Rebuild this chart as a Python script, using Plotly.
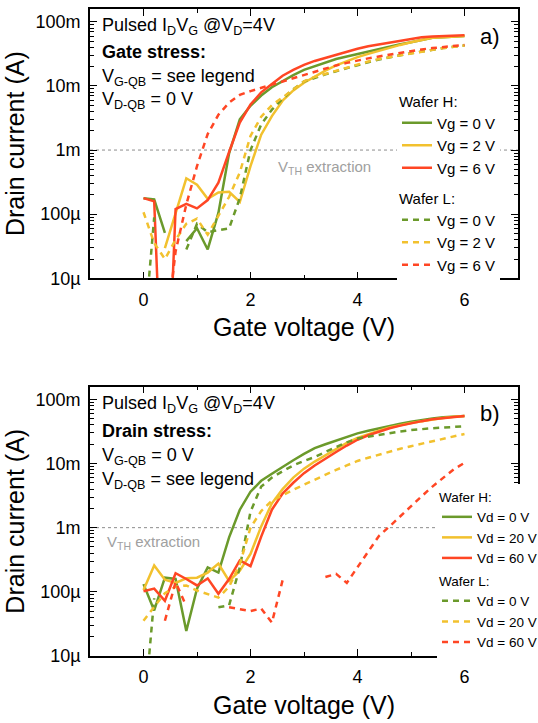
import plotly.graph_objects as go

# ---------------- data (gate voltage in V, drain current as log10(A)) ----------------
gate_v = [0.0, 0.2, 0.4, 0.6, 0.8, 1.0, 1.2, 1.4, 1.6, 1.8, 2.0, 2.2, 2.4, 2.6, 2.8, 3.0,
          3.2, 3.4, 3.6, 3.8, 4.0, 4.2, 4.4, 4.6, 4.8, 5.0, 5.2, 5.4, 5.6, 5.8, 6.0]

# panel a) gate stress
a_H_vg0 = [-3.75, -3.77, -4.29, None, -4.42, -4.22, -4.55, -3.98, -3.05, -2.52, -2.31, -2.15, -2.02, -1.92, -1.83, -1.75,
           -1.69, -1.63, -1.58, -1.54, -1.50, -1.46, -1.42, -1.39, -1.35, -1.32, -1.28, -1.25, -1.24, -1.23, -1.22]
a_H_vg2 = [None, None, -4.53, -4.00, -3.44, -3.54, -3.76, -3.66, -3.65, -3.81, -3.25, -2.76, -2.47, -2.23, -2.07, -1.95,
           -1.85, -1.76, -1.68, -1.61, -1.55, -1.50, -1.45, -1.40, -1.36, -1.32, -1.28, -1.25, -1.24, -1.23, -1.22]
a_H_vg6 = [-3.75, -3.80, -8.00, -3.92, -3.84, -3.91, -3.78, -3.51, -3.03, -2.57, -2.29, -2.10, -1.97, -1.84, -1.75, -1.67,
           -1.61, -1.56, -1.51, -1.46, -1.42, -1.38, -1.35, -1.32, -1.29, -1.26, -1.24, -1.23, -1.22, -1.21, -1.21]
a_L_vg0 = [-6.00, -4.05, None, None, -4.55, -4.15, -4.28, -4.25, -4.22, -3.75, -3.00, -2.60, -2.37, -2.20, -2.05, -1.93,
           -1.87, -1.82, -1.77, -1.72, -1.67, -1.63, -1.59, -1.55, -1.52, -1.49, -1.46, -1.43, -1.41, -1.39, -1.37]
a_L_vg2 = [-3.97, -4.45, -4.70, -4.40, -4.15, -4.07, -4.32, -4.02, -3.73, -3.35, -2.78, -2.48, -2.30, -2.18, -2.05, -1.93,
           -1.86, -1.81, -1.76, -1.71, -1.66, -1.62, -1.58, -1.55, -1.52, -1.49, -1.46, -1.43, -1.41, -1.39, -1.37]
a_L_vg6 = [None, None, -6.00, -4.58, -3.85, -3.25, -2.75, -2.45, -2.26, -2.14, -2.08, -2.03, -1.98, -1.92, -1.87, -1.82,
           -1.77, -1.72, -1.68, -1.64, -1.60, -1.57, -1.54, -1.51, -1.48, -1.45, -1.43, -1.41, -1.39, -1.37, -1.36]

# panel b) drain stress
b_H_vd0 = [-3.88, -4.29, -3.78, -3.80, -4.61, -3.95, -3.62, -3.70, -3.15, -2.72, -2.44, -2.27, -2.16, -2.05, -1.95, -1.85,
           -1.76, -1.70, -1.64, -1.58, -1.53, -1.49, -1.45, -1.41, -1.38, -1.35, -1.32, -1.30, -1.28, -1.27, -1.26]
b_H_vd20 = [-3.97, -3.59, -3.81, -3.86, -3.79, -3.78, -3.70, -3.56, -3.83, -3.67, -3.41, -2.98, -2.62, -2.40, -2.22, -2.08,
            -1.97, -1.87, -1.77, -1.68, -1.60, -1.54, -1.49, -1.44, -1.40, -1.37, -1.34, -1.31, -1.29, -1.27, -1.26]
b_H_vd60 = [-3.99, -3.95, -4.14, -3.71, -3.80, -3.90, -3.79, -4.03, -3.80, -3.51, -3.60, -3.14, -2.72, -2.47, -2.30, -2.15,
            -2.03, -1.92, -1.82, -1.72, -1.63, -1.56, -1.50, -1.45, -1.41, -1.37, -1.34, -1.31, -1.29, -1.27, -1.26]
b_L_vd0 = [-6.00, -4.10, None, None, None, None, None, -4.24, -4.21, -3.62, -2.75, -2.36, -2.22, -2.12, -2.03, -1.96,
           -1.90, -1.82, -1.74, -1.67, -1.61, -1.58, -1.55, -1.52, -1.50, -1.48, -1.46, -1.45, -1.44, -1.43, -1.42]
b_L_vd20 = [-4.45, -4.23, -4.02, -3.92, -3.90, -3.98, -4.04, -4.09, -3.92, -3.57, -3.00, -2.74, -2.58, -2.49, -2.41, -2.33,
            -2.25, -2.17, -2.10, -2.03, -1.96, -1.91, -1.86, -1.81, -1.77, -1.73, -1.69, -1.65, -1.61, -1.58, -1.54]
b_L_vd60 = [None, None, -4.45, -3.85, -4.22, None, None, None, -4.24, -4.27, -4.30, -4.26, -4.48, -3.82, None, None,
            None, -3.77, -3.72, -3.86, -3.62, -3.36, -3.13, -2.98, -2.82, -2.67, -2.51, -2.36, -2.22, -2.09, -1.99]

y_tick_vals = [1e-5, 1e-4, 1e-3, 1e-2, 1e-1]
y_tick_text = ["10µ", "100µ", "1m", "10m", "100m"]
y_minor_vals = [m * d for d in (1e-5, 1e-4, 1e-3, 1e-2, 1e-1) for m in (2, 3, 4, 5, 6, 7, 8, 9)]
x_tick_vals = [0, 2, 4, 6]
x_minor_vals = [1, 3, 5]

GREEN = "#6b9a2b"
YELLOW = "#f2c12e"
RED = "#ff4624"
FONT = "Liberation Sans, Arial, sans-serif"

W, H = 538, 723
ML, MR, MT, MB = 90, 20, 9, 67
PW = W - ML - MR
PH = H - MT - MB


def px2x(px):
    return (px - ML) / PW


def py2y(py):
    return (H - MB - py) / PH


def amps(lst):
    return [None if v is None else 10 ** v for v in lst]


fig = go.Figure()

series = [
    # (values, color, dash, name, legend, axes)
    (a_H_vg0, GREEN, "solid", "Vg = 0 V", "legend", "x", "y"),
    (a_H_vg2, YELLOW, "solid", "Vg = 2 V", "legend", "x", "y"),
    (a_H_vg6, RED, "solid", "Vg = 6 V", "legend", "x", "y"),
    (a_L_vg0, GREEN, "6px,5px", "Vg = 0 V", "legend2", "x", "y"),
    (a_L_vg2, YELLOW, "6px,5px", "Vg = 2 V", "legend2", "x", "y"),
    (a_L_vg6, RED, "6px,5px", "Vg = 6 V", "legend2", "x", "y"),
    (b_H_vd0, GREEN, "solid", "Vd = 0 V", "legend3", "x2", "y2"),
    (b_H_vd20, YELLOW, "solid", "Vd = 20 V", "legend3", "x2", "y2"),
    (b_H_vd60, RED, "solid", "Vd = 60 V", "legend3", "x2", "y2"),
    (b_L_vd0, GREEN, "6px,5px", "Vd = 0 V", "legend4", "x2", "y2"),
    (b_L_vd20, YELLOW, "6px,5px", "Vd = 20 V", "legend4", "x2", "y2"),
    (b_L_vd60, RED, "6px,5px", "Vd = 60 V", "legend4", "x2", "y2"),
]

for vals, col, dash, name, leg, xa, ya in series:
    fig.add_trace(go.Scatter(
        x=gate_v, y=amps(vals), mode="lines", name=name,
        line=dict(color=col, width=2.5, dash=dash),
        legend=leg, xaxis=xa, yaxis=ya, hoverinfo="skip",
    ))

top_dom = [py2y(278.3), 1.0]
bot_dom = [0.0, py2y(386.5)]

common_x = dict(
    range=[-1, 7], tickmode="array", tickvals=x_tick_vals, ticks="inside", ticklen=7,
    tickwidth=1.3, tickcolor="black", showline=True, linecolor="black", linewidth=1.6,
    mirror="allticks", showgrid=False, zeroline=False,
    minor=dict(tickmode="array", tickvals=x_minor_vals, ticks="inside", ticklen=4, tickwidth=1.1,
               tickcolor="black", showgrid=False),
    tickfont=dict(size=18, color="black", family=FONT),
    title=dict(text="Gate voltage (V)", font=dict(size=25, color="black", family=FONT), standoff=10),
    ticklabelstandoff=4,
)
common_y = dict(
    type="log", range=[-5, -0.8], tickmode="array", tickvals=y_tick_vals, ticktext=y_tick_text,
    ticks="inside", ticklen=7, tickwidth=1.3, tickcolor="black",
    showline=True, linecolor="black", linewidth=1.6, mirror="allticks", showgrid=False, zeroline=False,
    minor=dict(tickmode="array", tickvals=y_minor_vals, ticks="inside", ticklen=4, tickwidth=1.1,
               tickcolor="black", showgrid=False),
    tickfont=dict(size=18, color="black", family=FONT),
    title=dict(text="Drain current (A)", font=dict(size=25, color="black", family=FONT), standoff=4),
    ticklabelstandoff=4,
)


def legend_box(title, px, py, size):
    f = dict(size=size, color="black", family=FONT)
    return dict(x=px2x(px), y=py2y(py), xanchor="left", yanchor="top", bgcolor="white",
                borderwidth=0, font=f, title=dict(text=title, font=f), itemwidth=30)


fig.update_layout(
    width=W, height=H,
    margin=dict(l=ML, r=MR, t=MT, b=MB, autoexpand=False),
    paper_bgcolor="white", plot_bgcolor="white",
    font=dict(family=FONT, color="black"),
    xaxis=dict(domain=[0, 1], anchor="y", **common_x),
    yaxis=dict(domain=top_dom, anchor="x", **common_y),
    xaxis2=dict(domain=[0, 1], anchor="y2", **common_x),
    yaxis2=dict(domain=bot_dom, anchor="x2", **common_y),
    legend=legend_box("Wafer H:", 397, 87, 15),
    legend2=legend_box("Wafer L:", 397, 184, 15),
    legend3=legend_box("Wafer H:", 437, 484, 13.5),
    legend4=legend_box("Wafer L:", 437, 568, 13.5),
    showlegend=True,
)

# V_TH extraction reference line at 1 mA
for xr, yr in (("x", "y"), ("x2", "y2")):
    fig.add_shape(type="line", xref=xr, yref=yr, x0=-1, x1=7, y0=1e-3, y1=1e-3,
                  line=dict(color="#8c8c8c", width=1, dash="dot"), layer="below")

ann_font = dict(size=18, color="black", family=FONT)
texts = [
    ("Pulsed I<sub>D</sub>V<sub>G</sub> @V<sub>D</sub>=4V", 100, 27, ann_font),
    ("<b>Gate stress:</b>", 100, 52.5, ann_font),
    ("V<sub>G-QB</sub> = see legend", 100, 78, ann_font),
    ("V<sub>D-QB</sub> = 0 V", 100, 100, ann_font),
    ("Pulsed I<sub>D</sub>V<sub>G</sub> @V<sub>D</sub>=4V", 100, 404.5, ann_font),
    ("<b>Drain stress:</b>", 100, 430.7, ann_font),
    ("V<sub>G-QB</sub> = 0 V", 100, 456.5, ann_font),
    ("V<sub>D-QB</sub> = see legend", 100, 480, ann_font),
    ("V<sub>TH</sub> extraction", 276, 167, dict(size=15, color="#a0a0a0", family=FONT)),
    ("V<sub>TH</sub> extraction", 105, 542, dict(size=15, color="#a0a0a0", family=FONT)),
]
for txt, px, py, f in texts:
    fig.add_annotation(text=txt, xref="paper", yref="paper", x=px2x(px), y=py2y(py),
                       xanchor="left", yanchor="middle", showarrow=False, font=f)

for txt, py in (("a)", 37), ("b)", 413)):
    fig.add_annotation(text=txt, xref="paper", yref="paper", x=px2x(490), y=py2y(py),
                       xanchor="center", yanchor="middle", showarrow=False,
                       font=dict(size=22, color="black", family=FONT))

fig.write_html("out.html")
